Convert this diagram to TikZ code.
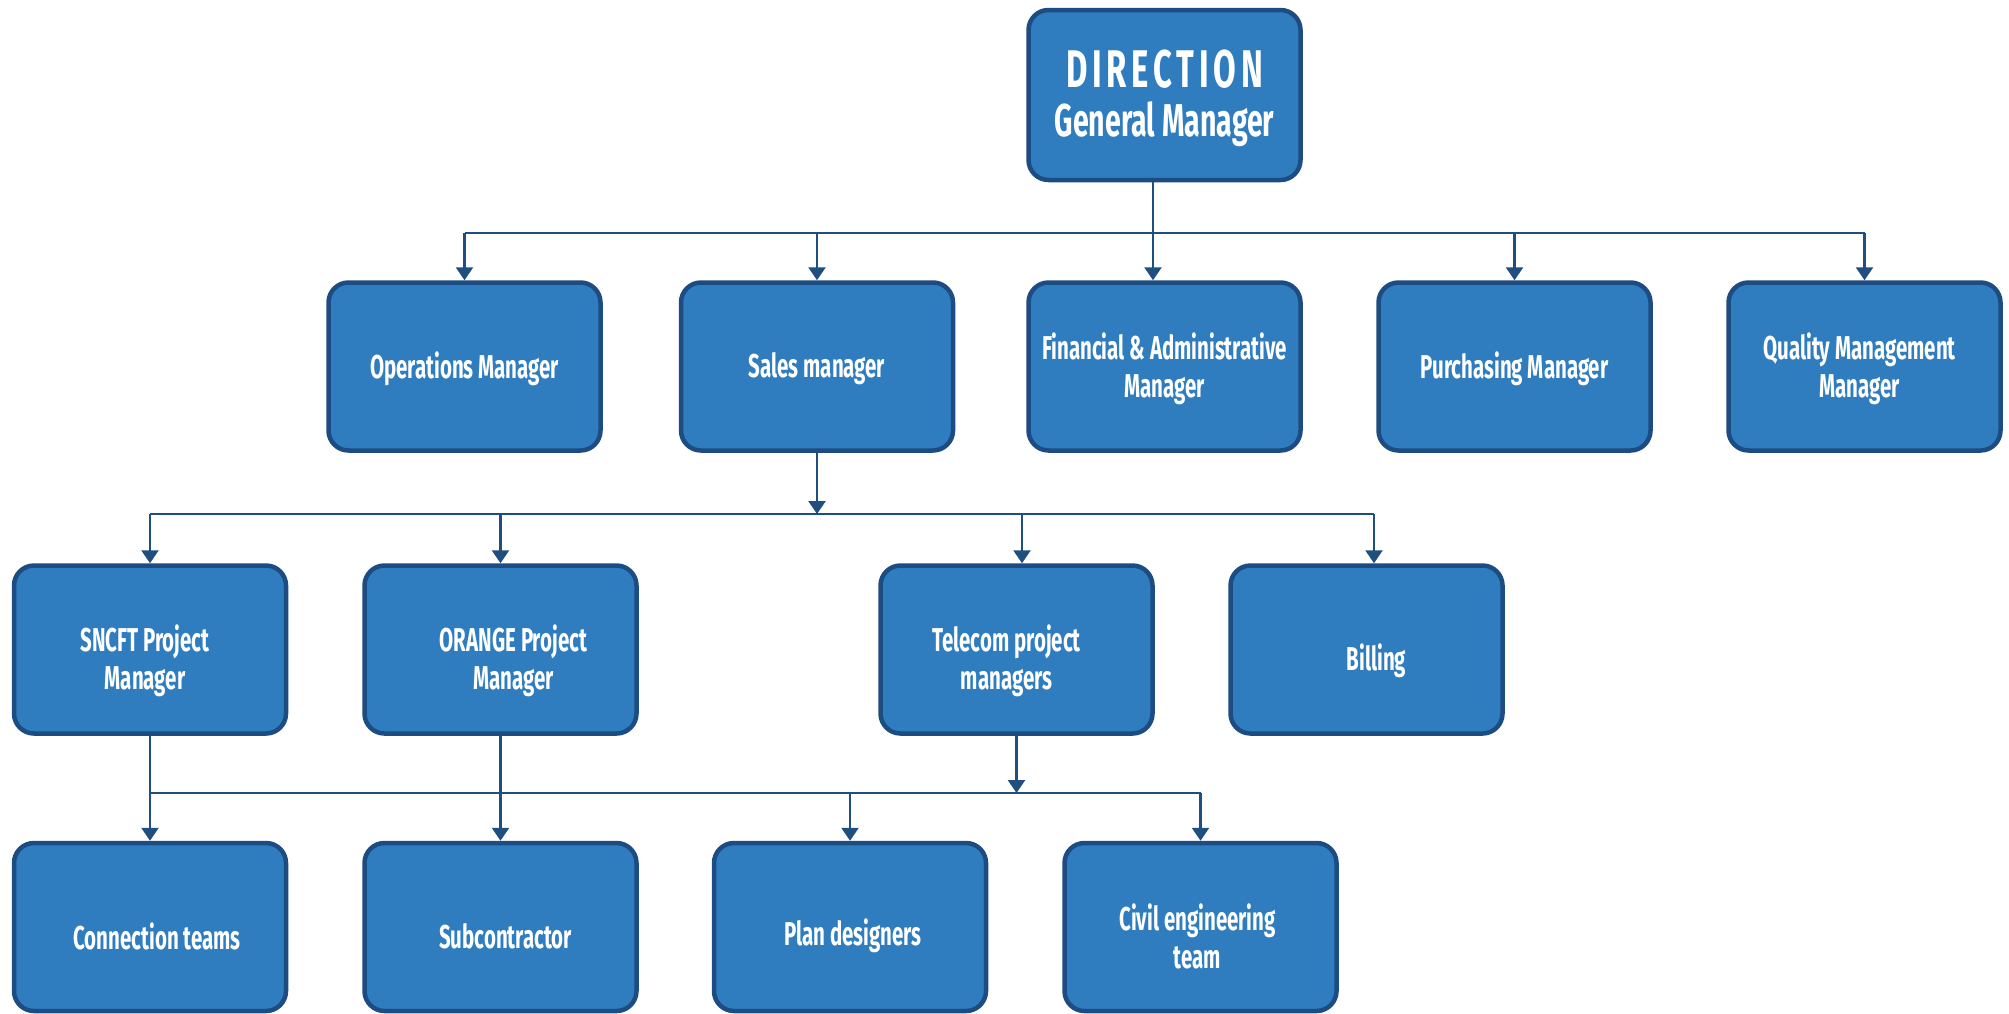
\documentclass[tikz,border=0pt]{standalone}
\usepackage{fontspec}
\usetikzlibrary{arrows.meta}
\newfontfamily\boxfont[FakeStretch=0.62]{Fira Sans}
\definecolor{boxfill}{HTML}{2F7DBF}
\definecolor{bdr}{HTML}{1C4C82}
\definecolor{lnc}{HTML}{1F4E80}
\tikzset{
  box/.style={draw=bdr, line width=4.5pt, fill=boxfill, rounded corners=20pt,
    minimum width=272pt, minimum height=168pt, inner sep=0pt},
  txt/.style={text=white, align=center, inner sep=0pt,
    font=\boxfont\bfseries\fontsize{33}{38}\selectfont},
  line/.style={draw=lnc, line width=2.5pt},
  arr/.style={line, -{Triangle[width=17pt,length=13pt]}}
}
\begin{document}
\begin{tikzpicture}[x=1pt,y=-1pt]
\useasboundingbox (0,0) rectangle (2009,1013);
\clip (0,0) rectangle (2009,1013);
% top
\node[box, minimum height=170pt] (dir) at (1164.5,95) {};
\node[text=white, align=center, inner sep=0pt] (dirt) at (1164.5,98)
  {{\boxfont\bfseries\fontsize{53}{53}\selectfont\addfontfeature{LetterSpace=9}DIRECTION}\\[12pt]
   {\boxfont\bfseries\fontsize{46}{46}\selectfont General Manager}};
% row 2
\node[box, label={[txt,yshift=-2pt]center:Operations Manager}] (ops) at (464.5,366.5) {};
\node[box, label={[txt,yshift=-2pt]center:Sales manager}] (sales) at (817,366.5) {};
\node[box, label={[txt,yshift=-2pt]center:{Financial \& Administrative\\Manager}}] (fin) at (1164.5,366.5) {};
\node[box, label={[txt,yshift=-2pt]center:Purchasing Manager}] (purch) at (1514.5,366.5) {};
\node[box, label={[txt,xshift=-5pt,yshift=-2pt]center:{Quality Management\\Manager}}] (qual) at (1864.5,366.5) {};
% row 3
\node[box, label={[txt,xshift=-5pt,yshift=-11pt]center:{SNCFT Project\\Manager}}] (sncft) at (150,649.5) {};
\node[box, label={[txt,xshift=13pt,yshift=-11pt]center:{ORANGE Project\\Manager}}] (orange) at (500.5,649.5) {};
\node[box, label={[txt,xshift=-10pt,yshift=-11pt]center:{Telecom project\\managers}}] (telecom) at (1016.5,649.5) {};
\node[box, label={[txt,xshift=10pt,yshift=-11pt]center:Billing}] (billing) at (1366.5,649.5) {};
% row 4
\node[box, label={[txt,xshift=7pt,yshift=-9pt]center:Connection teams}] (conn) at (150,927) {};
\node[box, label={[txt,xshift=5pt,yshift=-9pt]center:Subcontractor}] (sub) at (500.5,927) {};
\node[box, label={[txt,xshift=3pt,yshift=-9pt]center:Plan designers}] (plan) at (850,927) {};
\node[box, label={[txt,xshift=-3pt,yshift=-9pt]center:{Civil engineering\\team}}] (civil) at (1200.5,927) {};
% bus 1
\coordinate (b1a) at (464.5,233);
\coordinate (b1b) at (1864.5,233);
\draw[line] (b1a) -- (b1b);
\draw[arr] (b1a) -- (ops.north);
\draw[arr] (sales.north |- b1a) -- (sales.north);
\draw[arr] ([xshift=-11.5pt]dir.south) -- ([xshift=-11.5pt]fin.north);
\draw[arr] (purch.north |- b1a) -- (purch.north);
\draw[arr] (b1b) -- (qual.north);
% bus 2
\coordinate (b2a) at (150,514);
\coordinate (b2b) at (1374,514);
\draw[line] (b2a) -- (b2b);
\draw[arr] (sales.south) -- (sales.south |- b2a);
\draw[arr] (b2a) -- (sncft.north);
\draw[arr] (orange.north |- b2a) -- (orange.north);
\draw[arr] ([xshift=5.5pt]telecom.north |- b2a) -- ([xshift=5.5pt]telecom.north);
\draw[arr] (b2b) -- ([xshift=7.5pt]billing.north);
% bus 3
\coordinate (b3a) at (150,793);
\coordinate (b3b) at (1200.5,793);
\draw[line] (b3a) -- (b3b);
\draw[arr] (sncft.south) -- (conn.north);
\draw[arr] (orange.south) -- (sub.north);
\draw[arr] (telecom.south) -- (telecom.south |- b3a);
\draw[arr] (plan.north |- b3a) -- (plan.north);
\draw[arr] (b3b) -- (civil.north);
\end{tikzpicture}
\end{document}
